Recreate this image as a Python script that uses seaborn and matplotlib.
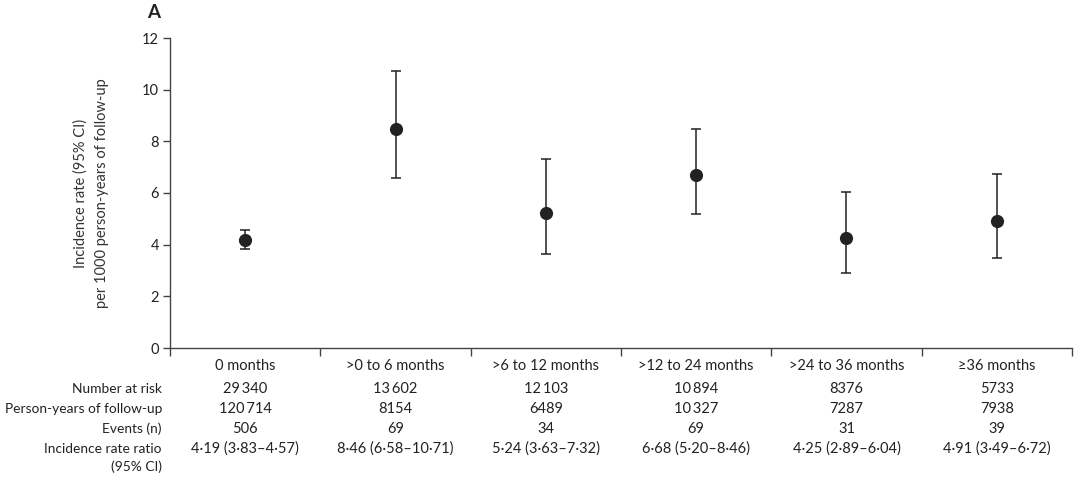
import matplotlib
matplotlib.use("Agg")
import matplotlib.pyplot as plt
import matplotlib.transforms as mtransforms
import seaborn as sns
import numpy as np
import pandas as pd

categories = ["0 months", ">0 to 6 months", ">6 to 12 months", ">12 to 24 months",
              ">24 to 36 months", "\u226536 months"]
rate = [4.19, 8.46, 5.24, 6.68, 4.25, 4.91]
ci_low = [3.83, 6.58, 3.63, 5.20, 2.89, 3.49]
ci_high = [4.57, 10.71, 7.32, 8.46, 6.04, 6.72]
number_at_risk = ["29\u2009340", "13\u2009602", "12\u2009103", "10\u2009894", "8376", "5733"]
person_years = ["120\u2009714", "8154", "6489", "10\u2009327", "7287", "7938"]
events = ["506", "69", "34", "69", "31", "39"]
irr_text = ["4\u00b719 (3\u00b783\u20134\u00b757)", "8\u00b746 (6\u00b758\u201310\u00b771)",
            "5\u00b724 (3\u00b763\u20137\u00b732)", "6\u00b768 (5\u00b720\u20138\u00b746)",
            "4\u00b725 (2\u00b789\u20136\u00b704)", "4\u00b791 (3\u00b749\u20136\u00b772)"]
row_labels = ["Number at risk", "Person-years of follow-up", "Events (n)",
              "Incidence rate ratio\n(95% CI)"]
yticks = [0, 2, 4, 6, 8, 10, 12]

sns.set_theme(style="ticks")
plt.rcParams['font.family'] = ['Lato', 'DejaVu Sans']
ink = "#222222"
fs = 10.5
fs_lab = 9.9

df = pd.DataFrame({"cat": categories, "x": np.arange(len(categories)) + 0.5,
                   "rate": rate, "lo": ci_low, "hi": ci_high})

fig = plt.figure(figsize=(10.8, 4.87), dpi=100)
ax = fig.add_axes([170/1080, 1-348/487, (1072-170)/1080, (348-38)/487])

ax.errorbar(df["x"], df["rate"], yerr=[df["rate"]-df["lo"], df["hi"]-df["rate"]],
            fmt="none", ecolor=ink, elinewidth=1.1, capsize=3.6, capthick=1.1, zorder=2)
sns.scatterplot(data=df, x="x", y="rate", ax=ax, s=90, color=ink, edgecolor=ink,
                linewidth=0, zorder=3, legend=False)

ax.set_xlim(0, 6)
ax.set_ylim(0, 12)
ax.set_yticks(yticks)
ax.set_yticklabels([str(t) for t in yticks], fontsize=fs, color=ink)
ax.set_xticks(np.arange(0, 7))
ax.set_xticklabels([])
ax.set_xlabel("")
ax.set_ylabel("Incidence rate (95% CI)\nper 1000 person-years of follow-up",
              fontsize=fs, color="#333333", linespacing=1.6, labelpad=24)
for s in ["top", "right"]:
    ax.spines[s].set_visible(False)
for s in ["left", "bottom"]:
    ax.spines[s].set_color("#444444")
    ax.spines[s].set_linewidth(1.0)
ax.tick_params(axis="y", direction="out", length=5, width=1.0, color="#444444", pad=3)
ax.tick_params(axis="x", direction="out", length=6, width=1.0, color="#444444")

blend = mtransforms.blended_transform_factory(ax.transData, fig.transFigure)
for i, c in enumerate(categories):
    ax.text(i + 0.5, 1 - 366/487, c, transform=blend,
            ha="center", va="center", fontsize=fs, color=ink)

rows = [number_at_risk, person_years, events, irr_text]
row_y = [389, 409, 429, 449]
for r, vals in enumerate(rows):
    for i, v in enumerate(vals):
        ax.text(i + 0.5, 1 - row_y[r]/487, v, transform=blend, ha="center", va="center",
                fontsize=fs, color=ink)
for r, lab in enumerate(row_labels):
    if "\n" in lab:
        l1, l2 = lab.split("\n")
        fig.text(162/1080, 1 - row_y[r]/487, l1, ha="right", va="center", fontsize=fs_lab, color=ink)
        fig.text(162/1080, 1 - 467/487, l2, ha="right", va="center", fontsize=fs_lab, color=ink)
    else:
        fig.text(162/1080, 1 - row_y[r]/487, lab, ha="right", va="center", fontsize=fs_lab, color=ink)

fig.text(147/1080, 1 - 13/487, "A", ha="left", va="center", fontsize=13.5,
         fontweight="bold", color=ink)

fig.savefig("out.png", dpi=100)
